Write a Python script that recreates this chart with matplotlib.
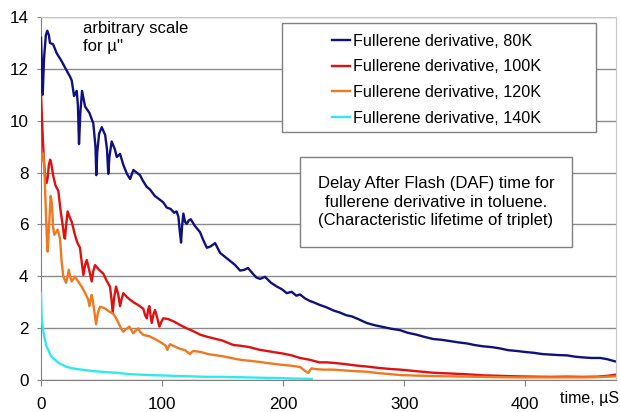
import matplotlib.pyplot as plt
from matplotlib.patches import Rectangle

plt.rcParams['font.family'] = ['Liberation Sans', 'DejaVu Sans']

# Curvas (tempo em µs, escala arbitrária)
t_80k = [0, 0.8, 1.4, 2.5, 4, 5.2, 6.5, 7.4, 10, 13, 17, 21, 24, 25.4, 27.3, 29.5, 30.5, 31.4, 32.5, 33.9,
         36.4, 40, 43.2, 45, 45.7, 46.5, 48, 50.2, 53, 54.5, 55.6, 56.5, 58.4, 61, 62.6, 65.3, 68, 71, 73.6,
         76.3, 79, 81.8, 84, 87.3, 90, 94, 98.3, 101, 103.9, 107, 110, 112, 113.5, 114.5, 115.7, 116.5, 117.6,
         119, 120.4, 122, 123.7, 127, 131.4, 134, 137, 140, 143.8, 148, 152, 156, 160, 164.5, 168, 171, 175,
         178, 181, 185, 190, 195, 199, 203, 207, 211, 214, 218, 222, 225, 230, 236, 241.6, 247, 252, 257, 262,
         269, 275, 282, 289, 296.7, 303, 310, 317, 324, 331, 338, 345, 351.8, 358, 365, 372, 379, 386, 393,
         400, 407, 414, 421, 428, 434.5, 441, 448, 455, 462, 468, 474]
v_80k = [13.2, 12.0, 11.0, 12.4, 13.3, 13.47, 13.3, 13.0, 12.95, 12.6, 12.3, 11.95, 11.7, 11.55, 10.95, 11.15,
         10.6, 9.1, 10.3, 11.15, 10.55, 10.3, 9.9, 9.0, 7.9, 8.8, 9.5, 9.75, 9.45, 8.9, 7.95, 8.6, 9.2, 8.9,
         8.6, 8.72, 8.3, 7.95, 7.75, 8.1, 8.0, 7.9, 7.7, 7.45, 7.35, 7.1, 6.95, 6.85, 6.65, 6.6, 6.45, 6.5, 6.3,
         5.8, 5.3, 5.9, 6.42, 6.1, 6.02, 6.15, 6.2, 5.95, 5.7, 5.4, 5.1, 5.15, 5.28, 4.9, 4.75, 4.6, 4.45, 4.22,
         4.25, 4.32, 4.1, 3.95, 3.9, 3.98, 3.75, 3.6, 3.5, 3.35, 3.4, 3.25, 3.3, 3.15, 3.05, 3.0, 2.9, 2.8, 2.68,
         2.6, 2.5, 2.45, 2.35, 2.2, 2.12, 2.05, 1.98, 1.92, 1.82, 1.75, 1.66, 1.58, 1.55, 1.5, 1.45, 1.41, 1.35,
         1.3, 1.27, 1.22, 1.15, 1.12, 1.08, 1.05, 1.0, 0.98, 0.96, 0.95, 0.9, 0.87, 0.85, 0.85, 0.8, 0.72]

t_100k = [0, 0.7, 1.5, 2.5, 3.5, 4.7, 5.5, 6.5, 7.6, 8.5, 10, 12, 14.3, 16, 18.4, 19.2, 19.8, 20.8, 22, 23.5,
          25.4, 28, 30, 32.2, 33.5, 35, 36.5, 37.8, 39, 40.5, 41.9, 43.2, 44.6, 48, 51.5, 54, 57, 58.3, 59.2,
          60.5, 62, 63.8, 65.3, 66.5, 68, 71, 73.5, 76.3, 80, 84.5, 86, 87.4, 88.5, 89.5, 90.5, 91.5, 93, 94.2,
          96, 97.8, 99.5, 101, 105, 110, 114.9, 120, 125, 131.4, 137, 143, 150, 155, 159, 165, 172, 180, 186.5,
          193, 200, 207, 214, 222, 230, 236, 241.6, 250, 260, 269, 280, 290, 296.7, 310, 324, 338, 352, 365,
          379, 393, 407, 421, 434, 448, 460, 468, 474]
v_100k = [11.0, 10.2, 9.3, 8.4, 7.8, 7.6, 7.8, 8.3, 8.5, 8.35, 7.9, 7.5, 7.3, 6.6, 5.8, 5.5, 5.45, 6.0, 6.5,
          6.3, 6.1, 5.6, 5.3, 5.1, 4.6, 4.05, 4.45, 4.63, 4.4, 4.1, 3.8, 4.2, 4.43, 4.25, 4.1, 3.85, 3.6, 3.1,
          2.6, 3.2, 3.6, 3.3, 2.85, 3.1, 3.35, 3.2, 3.1, 3.0, 2.9, 2.75, 2.5, 2.38, 2.7, 2.85, 2.5, 2.2, 2.55,
          2.7, 2.4, 2.06, 2.25, 2.38, 2.35, 2.25, 2.12, 2.0, 1.9, 1.75, 1.67, 1.6, 1.52, 1.42, 1.35, 1.32, 1.27,
          1.17, 1.12, 1.07, 1.02, 0.95, 0.85, 0.78, 0.68, 0.68, 0.66, 0.62, 0.56, 0.52, 0.46, 0.42, 0.4, 0.34,
          0.28, 0.25, 0.22, 0.18, 0.16, 0.14, 0.13, 0.12, 0.13, 0.12, 0.13, 0.16, 0.2]

t_120k = [0, 1, 1.9, 3, 4, 5, 5.5, 6.5, 8, 9, 10, 11, 12.5, 13.8, 15.7, 17, 18.4, 20.7, 22, 23, 24, 25.4, 28,
          30, 33.6, 36, 39, 40, 41, 41.9, 43, 44.5, 45.5, 47, 48.8, 52.9, 56, 59.8, 63, 66, 68, 70, 73, 76.3,
          78, 80.4, 82, 84.5, 90, 95.6, 100, 103, 104.4, 105.5, 106.6, 110, 114.9, 119, 123, 124.5, 125.9, 132,
          138, 145, 152, 160, 166, 172.7, 180, 186, 193, 200, 207, 214, 219.6, 221, 222.5, 223.7, 227, 233,
          241.6, 250, 260, 269, 280, 290, 297, 310, 324, 338, 352, 365, 379, 393, 407, 421, 434, 448, 460, 474]
v_120k = [8.4, 8.7, 8.74, 7.9, 6.5, 5.3, 4.95, 5.8, 7.1, 6.8, 5.9, 5.6, 5.7, 5.8, 5.45, 4.6, 4.0, 3.75, 4.0,
          4.25, 4.0, 3.8, 3.98, 3.85, 3.6, 3.4, 3.1, 2.85, 3.1, 3.28, 3.0, 2.5, 2.15, 2.6, 2.83, 2.76, 2.65,
          2.55, 2.3, 2.0, 1.86, 1.95, 2.06, 1.8, 1.9, 1.99, 1.85, 1.74, 1.68, 1.54, 1.42, 1.32, 1.16, 1.3, 1.38,
          1.3, 1.2, 1.15, 1.0, 1.08, 1.12, 1.08, 1.0, 0.95, 0.9, 0.82, 0.77, 0.74, 0.7, 0.66, 0.62, 0.58,
          0.55, 0.5, 0.3, 0.28, 0.4, 0.45, 0.42, 0.4, 0.4, 0.37, 0.34, 0.32, 0.26, 0.22, 0.19, 0.17, 0.15,
          0.14, 0.13, 0.12, 0.11, 0.1, 0.1, 0.1, 0.1, 0.1, 0.11, 0.14]

t_140k = [0, 0.5, 1, 2, 3.3, 4.5, 6, 8, 10, 13, 16, 21, 25, 30, 35, 40, 48.8, 55, 62, 70, 76, 85, 95, 104, 115,
          125, 131, 140, 150, 159, 170, 180, 186.5, 195, 205, 215, 223.7]
v_140k = [3.35, 2.45, 2.2, 1.85, 1.54, 1.3, 1.16, 0.95, 0.84, 0.72, 0.62, 0.51, 0.46, 0.42, 0.39, 0.36, 0.32,
          0.3, 0.28, 0.24, 0.22, 0.2, 0.18, 0.17, 0.15, 0.14, 0.13, 0.12, 0.12, 0.11, 0.1, 0.09, 0.08, 0.08,
          0.06, 0.05, 0.04]

labels = ['Fullerene derivative, 80K', 'Fullerene derivative, 100K',
          'Fullerene derivative, 120K', 'Fullerene derivative, 140K']
colors = ['#10107f', '#e01010', '#f07820', '#30e8f0']

fig = plt.figure(figsize=(6.2, 4.12), dpi=100)
ax = fig.add_axes([41 / 620, 32 / 412, 575 / 620, 363 / 412])

for t, v, lab, c in zip([t_80k, t_100k, t_120k, t_140k], [v_80k, v_100k, v_120k, v_140k], labels, colors):
    ax.plot(t, v, color=c, lw=1.7, label=lab, zorder=3)

# Eixos no estilo Excel
ax.set_xlim(0, 475)
ax.set_ylim(0, 14)
ax.set_xticks([0, 100, 200, 300, 400])
ax.set_yticks(range(0, 15, 2))
ax.yaxis.grid(True, color='#8a8a8a', lw=1)
ax.set_axisbelow(True)
for s in ['left', 'bottom']:
    ax.spines[s].set_color('#808080')
for s in ['top', 'right']:
    ax.spines[s].set_color('#c8c8c8')
ax.tick_params(axis='x', length=4, pad=8, color='#808080', labelsize=12.3)
ax.tick_params(axis='y', length=3, pad=6, color='#808080', labelsize=12.3)

# Caixa da legenda
ax.add_patch(Rectangle((0.419, 0.682), 0.546, 0.301, transform=ax.transAxes,
                       facecolor='white', edgecolor='#808080', lw=1, zorder=4))
ax.legend(loc='center', bbox_to_anchor=(0.688, 0.827), frameon=False, fontsize=11.6,
          handlelength=1.15, handletextpad=0.2, labelspacing=0.66)

# Caixa de texto
ax.add_patch(Rectangle((0.450, 0.366), 0.473, 0.249, transform=ax.transAxes,
                       facecolor='white', edgecolor='#808080', lw=1, zorder=4))
ax.text(0.687, 0.49, 'Delay After Flash (DAF) time for\nfullerene derivative in toluene.\n'
        '(Characteristic lifetime of triplet)', transform=ax.transAxes, ha='center', va='center',
        fontsize=12, linespacing=1.3, zorder=5)

ax.text(0.073, 0.99, "arbitrary scale\nfor µ''", transform=ax.transAxes, ha='left', va='top',
        fontsize=12, linespacing=1.26, zorder=5)
fig.text(560 / 620, 1 - 398 / 412, 'time, µS', ha='left', va='center', fontsize=11.5)

plt.savefig('out.png', dpi=100)
